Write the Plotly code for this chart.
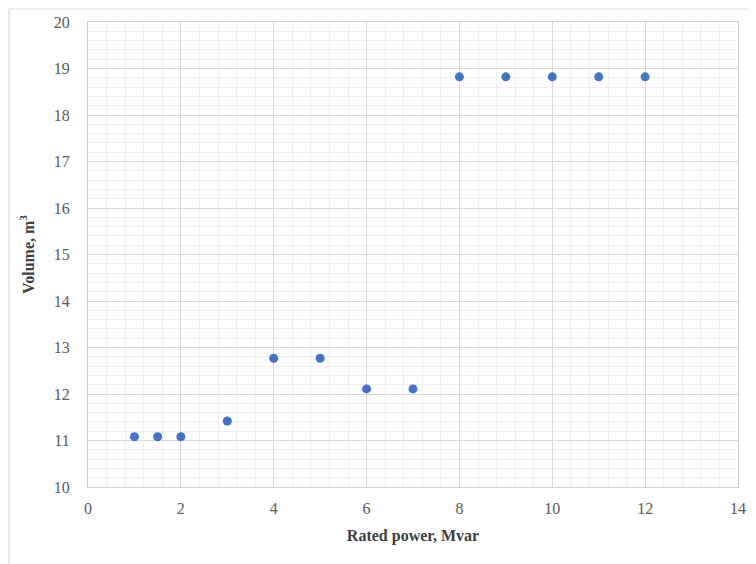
import plotly.graph_objects as go

rated_power = [1, 1.5, 2, 3, 4, 5, 6, 7, 8, 9, 10, 11, 12]
volume = [11.08, 11.08, 11.08, 11.42, 12.77, 12.77, 12.11, 12.11, 18.82, 18.82, 18.82, 18.82, 18.82]

fig = go.Figure(go.Scatter(
    x=rated_power, y=volume, mode="markers",
    marker=dict(color="#4472C4", size=9),
))

font_family = "Liberation Serif"
fig.update_layout(
    width=748, height=556,
    margin=dict(l=80, r=18, t=14, b=77),
    paper_bgcolor="white", plot_bgcolor="white",
    showlegend=False,
    font=dict(family=font_family, color="#595959", size=16),
    xaxis=dict(
        range=[0, 14], dtick=2, tick0=0, automargin=False,
        showgrid=True, gridcolor="#d9d9d9", gridwidth=1.3,
        minor=dict(dtick=0.4, showgrid=True, gridcolor="#efefef", gridwidth=1),
        showline=True, linecolor="#d0d0d0", linewidth=1.3, mirror=True,
        zeroline=False, ticks="", ticklabelstandoff=7,
        title=dict(text="<b>Rated power, Mvar</b>", font=dict(family=font_family, size=16, color="#404040"), standoff=13),
    ),
    yaxis=dict(
        range=[10, 20], dtick=1, tick0=10, automargin=False,
        showgrid=True, gridcolor="#d9d9d9", gridwidth=1.3,
        minor=dict(dtick=0.2, showgrid=True, gridcolor="#efefef", gridwidth=1),
        showline=True, linecolor="#d0d0d0", linewidth=1.3, mirror=True,
        zeroline=False, ticks="", ticklabelstandoff=14,
        title=dict(text="<b>Volume, m<sup>3</sup></b>", font=dict(family=font_family, size=16, color="#404040"), standoff=15),
    ),
)

fig.add_shape(type="rect", xref="paper", yref="paper",
              x0=-0.1215, x1=1.0215, y0=-0.174, y1=1.028,
              line=dict(color="#d9d9d9", width=1.2), fillcolor="rgba(0,0,0,0)", layer="below")

fig.write_html("out.html")
